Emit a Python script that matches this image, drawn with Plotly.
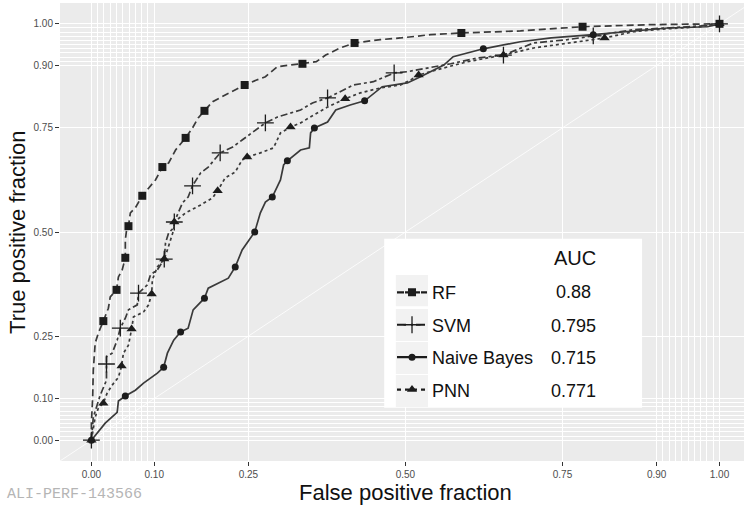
import plotly.graph_objects as go

# ---------------- data ----------------
rf_fpr = [0, 0, 0.002, 0.003, 0.006, 0.011, 0.019, 0.027, 0.030, 0.040, 0.043, 0.049, 0.054, 0.054, 0.056, 0.059,
          0.062, 0.070, 0.081, 0.091, 0.102, 0.113, 0.123, 0.134, 0.150, 0.161, 0.170, 0.180, 0.193, 0.213, 0.229,
          0.244, 0.263, 0.277, 0.296, 0.336, 0.358, 0.373, 0.396, 0.419, 0.460, 0.492, 0.540, 0.589, 0.683, 0.782,
          0.890, 1.0]
rf_tpr = [0, 0.041, 0.103, 0.168, 0.233, 0.257, 0.286, 0.317, 0.344, 0.361, 0.392, 0.409, 0.438, 0.481, 0.505, 0.514,
          0.546, 0.558, 0.587, 0.606, 0.625, 0.656, 0.666, 0.697, 0.726, 0.750, 0.774, 0.791, 0.813, 0.829, 0.841,
          0.853, 0.865, 0.873, 0.897, 0.904, 0.909, 0.925, 0.942, 0.954, 0.962, 0.966, 0.974, 0.978, 0.983, 0.993,
          0.998, 1.0]
rf_cut_fpr = [0.019, 0.040, 0.054, 0.059, 0.081, 0.113, 0.150, 0.180, 0.244, 0.336, 0.419, 0.589, 0.782, 1.0]
rf_cut_tpr = [0.286, 0.361, 0.438, 0.514, 0.587, 0.656, 0.726, 0.791, 0.853, 0.904, 0.954, 0.978, 0.993, 1.0]

svm_fpr = [0, 0.003, 0.010, 0.014, 0.024, 0.024, 0.024, 0.033, 0.041, 0.046, 0.054, 0.059, 0.073, 0.075, 0.089,
           0.094, 0.105, 0.116, 0.118, 0.123, 0.131, 0.132, 0.145, 0.154, 0.161, 0.174, 0.186, 0.205, 0.225, 0.240,
           0.258, 0.277, 0.296, 0.333, 0.352, 0.376, 0.396, 0.417, 0.449, 0.482, 0.503, 0.535, 0.572, 0.615, 0.656,
           0.704, 0.758, 0.799, 0.863, 0.917, 0.970, 1.0]
svm_tpr = [0, 0.055, 0.089, 0.108, 0.144, 0.183, 0.200, 0.209, 0.240, 0.269, 0.293, 0.313, 0.325, 0.353, 0.373,
           0.397, 0.409, 0.435, 0.474, 0.498, 0.510, 0.524, 0.570, 0.584, 0.611, 0.642, 0.656, 0.690, 0.704, 0.721,
           0.740, 0.762, 0.776, 0.793, 0.810, 0.822, 0.837, 0.853, 0.861, 0.882, 0.885, 0.894, 0.904, 0.918, 0.925,
           0.954, 0.962, 0.971, 0.986, 0.990, 0.995, 1.0]
svm_cut_fpr = [0, 0.024, 0.046, 0.075, 0.116, 0.132, 0.161, 0.205, 0.277, 0.376, 0.482, 0.656, 0.799, 1.0]
svm_cut_tpr = [0, 0.183, 0.269, 0.353, 0.435, 0.524, 0.611, 0.690, 0.762, 0.822, 0.882, 0.925, 0.971, 1.0]

nb_fpr = [0, 0.022, 0.041, 0.043, 0.054, 0.070, 0.083, 0.105, 0.115, 0.121, 0.131, 0.142, 0.154, 0.162, 0.180,
          0.186, 0.218, 0.229, 0.240, 0.253, 0.260, 0.269, 0.277, 0.288, 0.301, 0.306, 0.312, 0.333, 0.347, 0.349,
          0.355, 0.376, 0.389, 0.412, 0.435, 0.463, 0.503, 0.524, 0.561, 0.576, 0.624, 0.683, 0.732, 0.799, 0.863,
          0.917, 0.981, 1.0]
nb_tpr = [0, 0.041, 0.067, 0.094, 0.106, 0.120, 0.137, 0.161, 0.175, 0.209, 0.240, 0.260, 0.269, 0.313, 0.341,
          0.365, 0.389, 0.416, 0.457, 0.486, 0.500, 0.546, 0.572, 0.584, 0.625, 0.661, 0.671, 0.697, 0.702, 0.738,
          0.750, 0.764, 0.793, 0.805, 0.815, 0.849, 0.858, 0.873, 0.901, 0.921, 0.940, 0.957, 0.966, 0.974, 0.983,
          0.990, 0.993, 1.0]
nb_cut_fpr = [0, 0.054, 0.115, 0.142, 0.180, 0.229, 0.260, 0.288, 0.312, 0.355, 0.435, 0.624, 0.799, 1.0]
nb_cut_tpr = [0, 0.106, 0.175, 0.260, 0.341, 0.416, 0.500, 0.584, 0.671, 0.750, 0.815, 0.940, 0.974, 1.0]

pnn_fpr = [0, 0.006, 0.011, 0.019, 0.025, 0.033, 0.043, 0.048, 0.051, 0.059, 0.064, 0.067, 0.083, 0.091, 0.096,
           0.097, 0.105, 0.116, 0.121, 0.126, 0.131, 0.132, 0.150, 0.174, 0.193, 0.201, 0.213, 0.229, 0.240, 0.248,
           0.269, 0.290, 0.301, 0.317, 0.333, 0.354, 0.376, 0.404, 0.428, 0.460, 0.492, 0.508, 0.521, 0.561, 0.599,
           0.631, 0.656, 0.704, 0.758, 0.817, 0.863, 0.917, 0.970, 1.0]
pnn_tpr = [0, 0.055, 0.077, 0.089, 0.113, 0.132, 0.151, 0.178, 0.209, 0.228, 0.267, 0.296, 0.308, 0.325, 0.351,
           0.385, 0.416, 0.435, 0.457, 0.481, 0.505, 0.524, 0.546, 0.565, 0.582, 0.599, 0.630, 0.644, 0.673, 0.680,
           0.690, 0.702, 0.738, 0.752, 0.762, 0.781, 0.800, 0.820, 0.834, 0.846, 0.853, 0.865, 0.877, 0.894, 0.909,
           0.918, 0.925, 0.942, 0.954, 0.966, 0.981, 0.988, 0.993, 1.0]
pnn_cut_fpr = [0, 0.019, 0.048, 0.064, 0.096, 0.116, 0.132, 0.201, 0.248, 0.317, 0.404, 0.521, 0.656, 0.817, 1.0]
pnn_cut_tpr = [0, 0.089, 0.178, 0.267, 0.351, 0.435, 0.524, 0.599, 0.680, 0.752, 0.820, 0.877, 0.925, 0.966, 1.0]

models = ["RF", "SVM", "Naive Bayes", "PNN"]
auc_values = ["0.88", "0.795", "0.715", "0.771"]

major_breaks = [0, 0.1, 0.25, 0.5, 0.75, 0.9, 1.0]
major_labels = ["0.00", "0.10", "0.25", "0.50", "0.75", "0.90", "1.00"]
minor_breaks = [0.01, 0.02, 0.03, 0.04, 0.05, 0.06, 0.07, 0.08, 0.09,
                0.91, 0.92, 0.93, 0.94, 0.95, 0.96, 0.97, 0.98, 0.99]

# ---------------- styling ----------------
LINE_C = "#3a3a3a"
MARK_C = "#1c1c1c"
FONT = "Liberation Sans, Arial, sans-serif"

curves = [
    (rf_fpr, rf_tpr, rf_cut_fpr, rf_cut_tpr, "7px,4px", "7px,1px", dict(symbol="square", size=8)),
    (svm_fpr, svm_tpr, svm_cut_fpr, svm_cut_tpr, "7px,3px,3px,3px", "9px,5px,2px,3px",
     dict(symbol="cross-thin", size=12, line=dict(width=1.3, color=MARK_C))),
    (nb_fpr, nb_tpr, nb_cut_fpr, nb_cut_tpr, "solid", "solid", dict(symbol="circle", size=7)),
    (pnn_fpr, pnn_tpr, pnn_cut_fpr, pnn_cut_tpr, "3px,3px", "4px,4px", dict(symbol="triangle-up", size=9)),
]

fig = go.Figure()

# diagonal reference line
fig.add_trace(go.Scatter(x=[-0.2, 1.2], y=[-0.2, 1.2], mode="lines",
                         line=dict(color="white", width=0.8), showlegend=False, hoverinfo="skip"))

for i, (fx, ty, cx, cy, dash, legdash, mk) in enumerate(curves):
    fig.add_trace(go.Scatter(x=fx, y=ty, mode="lines", line=dict(color=LINE_C, width=1.7, dash=dash),
                             showlegend=False, hoverinfo="skip"))
    mk = dict(mk)
    mk.setdefault("color", MARK_C)
    fig.add_trace(go.Scatter(x=cx, y=cy, mode="markers", marker=mk, showlegend=False, hoverinfo="skip"))
    # legend entry
    fig.add_trace(go.Scatter(x=[None], y=[None], mode="lines+markers", name=models[i],
                             legendgroup=models[i],
                             line=dict(color=MARK_C, width=2.2, dash=legdash), marker=mk))

# legend box & key backgrounds
shapes = [dict(type="rect", xref="paper", yref="paper", x0=0.474, x1=0.851, y0=0.116, y1=0.485,
               fillcolor="white", line=dict(width=0), layer="above")]
key_rows = [(0.338, 0.406), (0.262, 0.332), (0.190, 0.260), (0.118, 0.188)]
for y0, y1 in key_rows:
    shapes.append(dict(type="rect", xref="paper", yref="paper", x0=0.491, x1=0.538, y0=y0, y1=y1,
                       fillcolor="#F2F2F2", line=dict(width=0), layer="above"))

annotations = [dict(text="AUC", xref="paper", yref="paper", x=0.753, y=0.443, showarrow=False,
                    xanchor="center", yanchor="middle", font=dict(family=FONT, size=20, color="#111111"))]
auc_rows = [0.369, 0.295, 0.225, 0.153]
for v, yy in zip(auc_values, auc_rows):
    annotations.append(dict(text=v, xref="paper", yref="paper", x=0.750, y=yy, showarrow=False,
                            xanchor="center", yanchor="middle", font=dict(family=FONT, size=18, color="#111111")))
annotations += [
    dict(text="False positive fraction", xref="x", yref="paper", x=0.5, y=-0.0677, showarrow=False,
         xanchor="center", yanchor="middle", font=dict(family=FONT, size=22, color="#111111")),
    dict(text="True positive fraction", xref="paper", yref="paper", x=-0.0629, y=0.5, showarrow=False,
         xanchor="center", yanchor="middle", textangle=-90, font=dict(family=FONT, size=22, color="#111111")),
    dict(text="ALI-PERF-143566", xref="paper", yref="paper", x=-0.0804, y=-0.0742, showarrow=False,
         xanchor="left", yanchor="middle",
         font=dict(family="Liberation Mono, Courier New, monospace", size=15, color="#b5b5b5")),
]

axis_common = dict(
    tickmode="array", tickvals=major_breaks, ticktext=major_labels,
    showgrid=True, gridcolor="white", gridwidth=1.1, zeroline=False, showline=False,
    ticks="outside", ticklen=4, tickwidth=1, tickcolor="#333333",
    tickfont=dict(family=FONT, size=10, color="#4D4D4D"),
    minor=dict(tickmode="array", tickvals=minor_breaks, showgrid=True, gridcolor="white",
               gridwidth=0.5, ticks=""),
)

fig.update_layout(
    width=744, height=508,
    margin=dict(l=60, r=0, t=3, b=47),
    paper_bgcolor="white", plot_bgcolor="#EBEBEB",
    xaxis=dict(range=[-0.05, 1.039], **axis_common),
    yaxis=dict(range=[-0.05, 1.05], **axis_common),
    shapes=shapes, annotations=annotations,
    showlegend=True,
    legend=dict(x=0.4854, y=0.408, xanchor="left", yanchor="top", bgcolor="rgba(0,0,0,0)",
                borderwidth=0, traceorder="grouped", tracegroupgap=6, itemsizing="trace",
                font=dict(family=FONT, size=18, color="#111111")),
)

fig.write_html("out.html", config={"displayModeBar": False},
               post_script="document.body.style.margin='0';document.body.style.overflow='hidden';")
